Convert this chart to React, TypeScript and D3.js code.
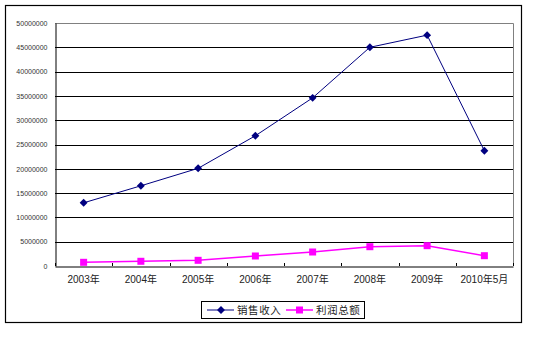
import React, { useEffect, useRef } from 'react';
import * as d3 from 'd3';

const categories = ['2003年', '2004年', '2005年', '2006年', '2007年', '2008年', '2009年', '2010年5月'];
const salesValues = [13000000, 16500000, 20100000, 26800000, 34600000, 45000000, 47500000, 23700000];
const profitValues = [760000, 970000, 1170000, 2060000, 2880000, 3970000, 4180000, 2120000];
const yTicks = [0, 5000000, 10000000, 15000000, 20000000, 25000000, 30000000, 35000000, 40000000, 45000000, 50000000];
const seriesNames = ['销售收入', '利润总额'];

const W = 547;
const H = 363;
const plot = { left: 55, right: 513, top: 23, bottom: 266 };

function drawChart(node: SVGSVGElement) {
  const svg = d3.select(node);
  svg.selectAll('*').remove();

  const x = d3.scaleBand<string>().domain(categories).range([plot.left, plot.right]);
  const y = d3.scaleLinear().domain([0, 50000000]).range([plot.bottom, plot.top]);

  // outer chart border
  svg.append('rect')
    .attr('x', 5.5).attr('y', 5.5).attr('width', 516).attr('height', 317)
    .attr('fill', 'white').attr('stroke', 'black').attr('stroke-width', 1.2);

  // plot area frame (grey top/right)
  svg.append('path')
    .attr('d', `M${plot.left},${plot.top + 0.5}H${plot.right + 0.5}V${plot.bottom}`)
    .attr('fill', 'none').attr('stroke', '#808080').attr('stroke-width', 1);

  // gridlines
  svg.append('g').selectAll('line')
    .data(yTicks.filter(t => t > 0 && t < 50000000))
    .enter().append('line')
    .attr('x1', plot.left).attr('x2', plot.right)
    .attr('y1', d => Math.round(y(d)) + 0.5).attr('y2', d => Math.round(y(d)) + 0.5)
    .attr('stroke', 'black').attr('stroke-width', 1);

  // y axis
  const yAxis = svg.append('g')
    .attr('transform', `translate(${plot.left + 0.5},0)`)
    .call(d3.axisLeft(y).tickValues(yTicks).tickSize(0).tickPadding(8).tickFormat(d => String(d)));
  yAxis.select('.domain').attr('stroke', 'black');
  yAxis.selectAll('text')
    .attr('font-family', 'Liberation Sans, Arial, sans-serif')
    .attr('font-size', 7)
    .attr('fill', '#333');

  // x axis
  const xAxis = svg.append('g')
    .attr('transform', `translate(0,${plot.bottom + 0.5})`)
    .call(d3.axisBottom(x).tickSize(0).tickPadding(9));
  xAxis.select('.domain').attr('stroke', 'black');
  xAxis.selectAll('text')
    .attr('font-family', 'Liberation Sans, Arial, "Noto Sans CJK SC", sans-serif')
    .attr('font-size', 10)
    .attr('fill', '#222');

  // x ticks between categories (pointing inward)
  const bounds = categories.map(c => x(c)!).concat([plot.right]);
  svg.append('g').selectAll('line')
    .data(bounds)
    .enter().append('line')
    .attr('x1', d => Math.round(d) + 0.5).attr('x2', d => Math.round(d) + 0.5)
    .attr('y1', plot.bottom - 3).attr('y2', plot.bottom)
    .attr('stroke', 'black');

  const cx = (c: string) => x(c)! + x.bandwidth() / 2;

  const line = d3.line<number>()
    .x((_, i) => cx(categories[i]))
    .y(d => y(d));

  const diamond = d3.symbol().type(d3.symbolDiamond2).size(40);

  // sales series
  svg.append('path')
    .datum(salesValues)
    .attr('d', line)
    .attr('fill', 'none').attr('stroke', '#000080').attr('stroke-width', 1);
  svg.append('g').selectAll('path')
    .data(salesValues)
    .enter().append('path')
    .attr('d', diamond)
    .attr('transform', (d, i) => `translate(${cx(categories[i])},${y(d)})`)
    .attr('fill', '#000080');

  // profit series
  svg.append('path')
    .datum(profitValues)
    .attr('d', line)
    .attr('fill', 'none').attr('stroke', '#FF00FF').attr('stroke-width', 1.5);
  svg.append('g').selectAll('rect')
    .data(profitValues)
    .enter().append('rect')
    .attr('x', (d, i) => cx(categories[i]) - 3.5)
    .attr('y', d => y(d) - 3.5)
    .attr('width', 7).attr('height', 7)
    .attr('fill', '#FF00FF');

  // legend
  const lg = svg.append('g');
  lg.append('rect')
    .attr('x', 201.5).attr('y', 301.5).attr('width', 163).attr('height', 17)
    .attr('fill', 'white').attr('stroke', 'black').attr('stroke-width', 1);
  const items = [
    { name: seriesNames[0], color: '#000080', x0: 207, marker: 'diamond' },
    { name: seriesNames[1], color: '#FF00FF', x0: 286, marker: 'square' },
  ];
  items.forEach(it => {
    lg.append('line')
      .attr('x1', it.x0).attr('x2', it.x0 + 27).attr('y1', 310).attr('y2', 310)
      .attr('stroke', it.color).attr('stroke-width', it.marker === 'square' ? 1.5 : 1);
    if (it.marker === 'diamond') {
      lg.append('path')
        .attr('d', diamond)
        .attr('transform', `translate(${it.x0 + 14},310)`)
        .attr('fill', it.color);
    } else {
      lg.append('rect')
        .attr('x', it.x0 + 10).attr('y', 306.5).attr('width', 7).attr('height', 7)
        .attr('fill', it.color);
    }
    lg.append('text')
      .attr('x', it.x0 + 30).attr('y', 314)
      .attr('font-family', '"Noto Sans CJK SC", sans-serif')
      .attr('font-size', 10.5)
      .attr('letter-spacing', 0.6)
      .attr('fill', '#222')
      .text(it.name);
  });
}

export default function App() {
  const ref = useRef<SVGSVGElement>(null);
  useEffect(() => {
    if (ref.current) drawChart(ref.current);
  }, []);
  return (
    <svg ref={ref} width={W} height={H} style={{ position: 'absolute', left: 0, top: 0, background: 'white' }} />
  );
}
